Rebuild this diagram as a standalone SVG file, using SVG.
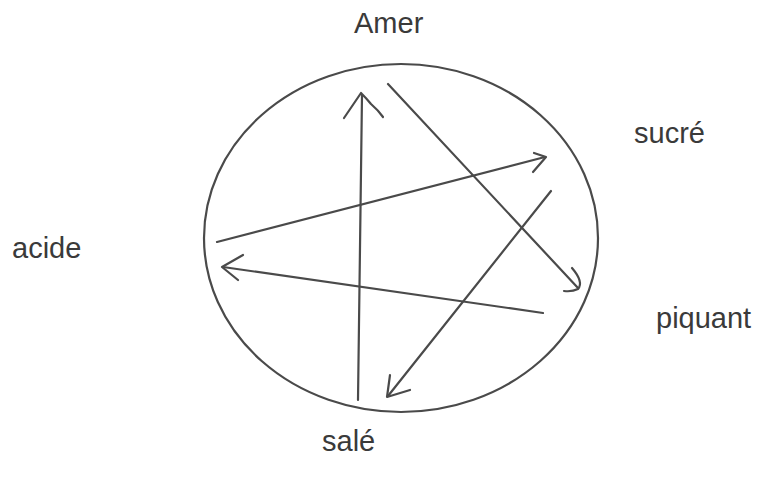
<svg xmlns="http://www.w3.org/2000/svg" width="760" height="479" viewBox="0 0 760 479">
<style>
.lbl{font-family:"Liberation Sans",Arial,sans-serif;font-size:29px;fill:#3a3a3a}
.ln{fill:none;stroke:#4a4a4a;stroke-width:2.2;stroke-linecap:round;stroke-linejoin:round}
</style>
<rect width="760" height="479" fill="#ffffff"/>
<g id="circle"><ellipse cx="401" cy="238" rx="197" ry="174" class="ln"/></g>
<g id="amer"><text class="lbl" x="354" y="33">Amer</text></g>
<g id="sucre"><text class="lbl" x="634" y="143">sucré</text></g>
<g id="acide"><text class="lbl" x="12" y="258">acide</text></g>
<g id="piquant"><text class="lbl" x="656" y="328">piquant</text></g>
<g id="sale"><text class="lbl" x="322" y="451">salé</text></g>
<g id="connectors">
<path class="ln" d="M358,400 L362,95"/>
<path class="ln" d="M344,118 L361,93 Q367,99 371,104 Q378,110 383,117"/>
<path class="ln" d="M388,84 L578,288"/>
<path class="ln" d="M572,268 Q584,282 578,289 Q572,292 564,291"/>
<path class="ln" d="M217,242 L545,157"/>
<path class="ln" d="M534,153 L546,157 L533,172"/>
<path class="ln" d="M543,313 L223,267"/>
<path class="ln" d="M243,255 L222,267 L238,280"/>
<path class="ln" d="M551,191 L388,396"/>
<path class="ln" d="M390,375 L387,397 L410,390"/>
</g>
</svg>
